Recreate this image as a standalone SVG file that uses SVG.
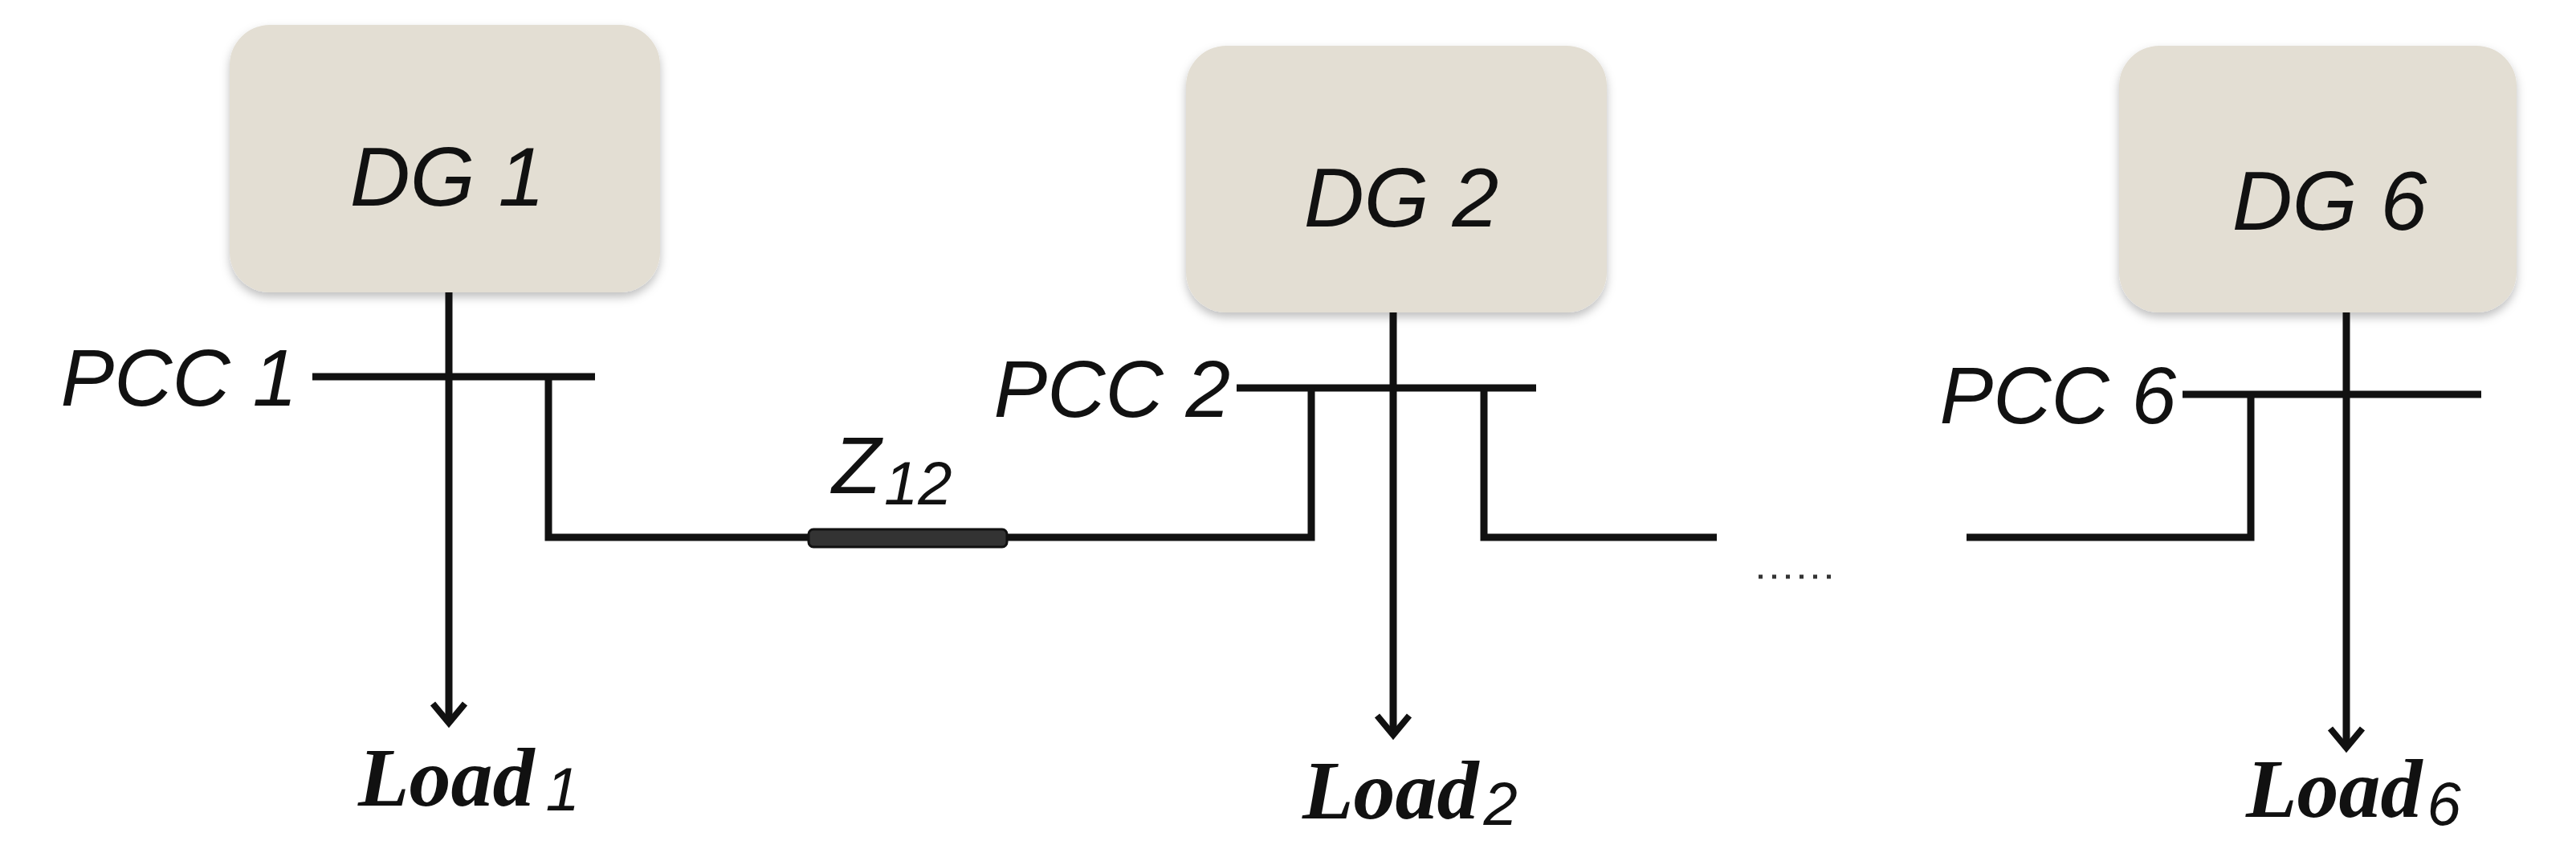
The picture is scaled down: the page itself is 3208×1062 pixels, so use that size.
<svg xmlns="http://www.w3.org/2000/svg" width="3208" height="1062" viewBox="0 0 3208 1062">
<style>
.box{fill:#e3ded3;filter:url(#sh)}
.dg{font-family:"Liberation Sans",Arial,sans-serif;font-style:italic;font-size:104px;fill:#111;text-anchor:middle}
.pcc{font-family:"Liberation Sans",Arial,sans-serif;font-style:italic;font-size:100px;fill:#111}
.ld{font-family:"Liberation Serif","Times New Roman",serif;font-style:italic;font-weight:bold;font-size:104px;fill:#111}
.sub{font-family:"Liberation Sans",Arial,sans-serif;font-style:italic;font-weight:normal;font-size:76px}
.bus{stroke:#111;stroke-width:9;fill:none}
.ah{stroke:#111;stroke-width:8;fill:none}
</style>
<defs>
<filter id="sh" x="-10%" y="-10%" width="120%" height="130%"><feDropShadow dx="0" dy="6" stdDeviation="6" flood-color="#000" flood-opacity="0.25"/></filter>
<path id="arrow" d="M-20,-24 L0,0 L20,-24"/>
</defs>
<rect width="3208" height="1062" fill="#fff"/>
<g id="dg1"><rect class="box" x="286" y="31" width="536" height="333" rx="50"/><text class="dg" x="557" y="256">DG 1</text></g>
<g id="dg2"><rect class="box" x="1477" y="57" width="524" height="332" rx="50"/><text class="dg" x="1745" y="282">DG 2</text></g>
<g id="dg6"><rect class="box" x="2639" y="57" width="495" height="332" rx="50"/><text class="dg" x="2901" y="286">DG 6</text></g>
<g id="pcc1"><line class="bus" x1="389" y1="469" x2="741" y2="469"/><text class="pcc" x="370" y="505" text-anchor="end">PCC 1</text></g>
<g id="pcc2"><line class="bus" x1="1555" y1="483" x2="1913" y2="483"/><text class="pcc" x="1532" y="519" text-anchor="end">PCC 2</text></g>
<g id="pcc6"><line class="bus" x1="2738" y1="491" x2="3090" y2="491"/><text class="pcc" x="2710" y="527" text-anchor="end">PCC 6</text></g>
<g id="load1"><text class="ld" x="446" y="1003">Load<tspan class="sub" dx="14" dy="6">1</tspan></text></g>
<g id="load2"><text class="ld" x="1622" y="1019">Load<tspan class="sub" dx="6" dy="8">2</tspan></text></g>
<g id="load6"><text class="ld" x="2797" y="1017">Load<tspan class="sub" dx="6" dy="10">6</tspan></text></g>
<g id="z12"><rect x="1007" y="659" width="247" height="22" rx="6" fill="#333" stroke="#111" stroke-width="3"/><text class="pcc" x="1036" y="614">Z<tspan class="sub" dx="4" dy="14">12</tspan></text></g>
<g id="connectors">
<line class="bus" x1="559" y1="364" x2="559" y2="900" stroke-width="7"/>
<use href="#arrow" x="559" y="900" class="ah"/>
<line class="bus" x1="1735" y1="389" x2="1735" y2="915" stroke-width="5"/>
<use href="#arrow" x="1735" y="915" class="ah"/>
<line class="bus" x1="2922" y1="389" x2="2922" y2="931" stroke-width="5"/>
<use href="#arrow" x="2922" y="931" class="ah"/>
<polyline class="bus" points="683,469 683,669 1007,669" stroke-width="6"/>
<polyline class="bus" points="1254,669 1633,669 1633,483" stroke-width="6"/>
<polyline class="bus" points="1848,483 1848,669 2138,669" stroke-width="9"/>
<polyline class="bus" points="2449,669 2803,669 2803,491" stroke-width="6"/>
<line x1="1555" y1="483" x2="1540" y2="483" class="bus"/>
<line x1="2738" y1="491" x2="2718" y2="491" class="bus"/>
<line x1="2190" y1="718" x2="2292" y2="718" stroke="#333" stroke-width="5" stroke-dasharray="5,12"/>
</g>
</svg>
